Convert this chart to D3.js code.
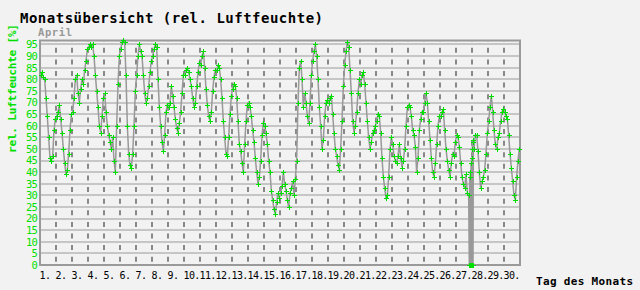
<!DOCTYPE html>
<html>
<head>
<meta charset="utf-8">
<script src="https://cdn.jsdelivr.net/npm/d3@7"></script>
<style>
  body { margin: 0; background: #f2f2f2; }
  svg { display: block; }
</style>
</head>
<body>
<script>
var width = 640, height = 290;

var monthName = 'April';
var titleText = 'Monatsübersicht (rel. Luftfeuchte)';
var yTitle = 'rel. Luftfeuchte [%]';
var xTitle = 'Tag des Monats';

var dayLabels = d3.range(1, 31).map(function (d) { return d + '.'; });
var yTicks = d3.range(0, 100, 5);

// 12 readings per day, every 2 hours (rel. humidity in %)
var humidity = [
  [82, 83, 81, 80, 72, 64, 55, 46, 45, 47, 58, 63],
  [64, 66, 69, 63, 57, 50, 44, 39, 41, 48, 58, 65],
  [66, 72, 80, 82, 74, 70, 76, 80, 78, 84, 88, 93],
  [94, 95, 94, 95, 90, 82, 75, 68, 60, 57, 64, 72],
  [74, 66, 60, 56, 53, 50, 55, 45, 40, 60, 78, 90],
  [93, 96, 97, 96, 82, 60, 48, 43, 42, 48, 60, 75],
  [82, 90, 95, 92, 90, 82, 74, 70, 72, 77, 83, 88],
  [90, 93, 95, 94, 80, 68, 60, 53, 49, 56, 66, 69],
  [68, 70, 77, 73, 68, 63, 59, 57, 61, 66, 74, 82],
  [82, 84, 85, 83, 80, 77, 72, 68, 70, 77, 83, 87],
  [86, 90, 92, 85, 76, 69, 64, 62, 66, 75, 81, 84],
  [84, 86, 85, 80, 72, 62, 55, 48, 47, 55, 65, 73],
  [76, 78, 77, 72, 62, 52, 49, 44, 40, 52, 62, 69],
  [70, 68, 64, 58, 53, 46, 40, 35, 38, 45, 56, 61],
  [60, 57, 52, 45, 40, 32, 28, 24, 22, 27, 31, 29],
  [31, 34, 40, 35, 32, 28, 25, 31, 33, 36, 30, 37],
  [45, 70, 85, 88, 80, 68, 74, 70, 64, 61, 70, 82],
  [88, 92, 95, 90, 80, 68, 60, 50, 54, 64, 70, 71],
  [70, 72, 73, 65, 57, 50, 47, 43, 41, 50, 62, 77],
  [86, 92, 96, 94, 84, 74, 62, 57, 60, 66, 74, 80],
  [78, 82, 83, 78, 70, 62, 55, 50, 53, 57, 58, 60],
  [62, 65, 64, 57, 46, 38, 33, 29, 30, 38, 50, 55],
  [52, 47, 45, 44, 47, 52, 46, 42, 45, 50, 60, 68],
  [69, 68, 64, 58, 56, 51, 40, 46, 58, 63, 66, 66],
  [70, 74, 70, 62, 54, 46, 40, 38, 44, 52, 60, 64],
  [64, 66, 67, 58, 50, 45, 41, 38, 44, 48, 47, 53],
  [56, 55, 51, 44, 38, 35, 33, 39, 31, 30, 0, 0],
  [54, 50, 56, 56, 49, 40, 33, 36, 38, 41, 48, 57],
  [62, 68, 73, 66, 58, 52, 50, 55, 57, 62, 66, 67],
  [66, 64, 63, 56, 48, 42, 36, 30, 28, 38, 45, 50]
];

// sensor dropout around the turn of day 27/28 (hour of month, value)
var dropoutHours = [644, 644.5, 645.5, 646, 646.5, 647.5, 648, 648.5, 649.5, 650];
var dropoutValues = [0, 38, 40, 0, 44, 46, 0, 50, 0, 53];

// build one time series (hour of month -> value)
var series = [];
humidity.forEach(function (day, di) {
  day.forEach(function (v, k) {
    series.push({ t: di * 24 + k * 2 + 1, v: v });
  });
});
dropoutHours.forEach(function (h, i) {
  series.push({ t: h, v: dropoutValues[i] });
});
series.sort(function (a, b) { return a.t - b.t; });

var plotLeft = 40, plotRight = 520, plotTop = 41, plotBottom = 265;

var x = d3.scaleLinear().domain([0, 720]).range([plotLeft, plotRight]);
var y = d3.scaleLinear().domain([0, 96.5]).range([plotBottom, plotTop]);

var svg = d3.select('body').append('svg')
  .attr('width', width)
  .attr('height', height);

svg.append('rect')
  .attr('width', width).attr('height', height)
  .attr('fill', '#f2f2f2');

// horizontal grid
svg.append('g')
  .selectAll('line')
  .data(yTicks.filter(function (d) { return d > 0; }))
  .join('line')
  .attr('x1', plotLeft).attr('x2', plotRight)
  .attr('y1', function (d) { return Math.round(y(d)); })
  .attr('y2', function (d) { return Math.round(y(d)); })
  .attr('stroke', '#c6c6c6')
  .attr('stroke-width', 2);

// vertical day separators (dashed)
var step = y(0) - y(5);
svg.append('g')
  .selectAll('line')
  .data(d3.range(1, 30))
  .join('line')
  .attr('x1', function (d) { return x(d * 24); })
  .attr('x2', function (d) { return x(d * 24); })
  .attr('y1', plotBottom).attr('y2', plotTop)
  .attr('stroke', '#666')
  .attr('stroke-width', 1.5)
  .attr('stroke-dasharray', '5,' + (step - 5))
  .attr('stroke-dashoffset', -(step - 5) / 2);

// frame
svg.append('rect')
  .attr('x', plotLeft).attr('y', plotTop - 0.5)
  .attr('width', plotRight - plotLeft).attr('height', plotBottom - plotTop + 0.5)
  .attr('fill', 'none')
  .attr('stroke', '#9a9a9a')
  .attr('stroke-width', 2);

// trace
var line = d3.line()
  .x(function (d) { return x(d.t); })
  .y(function (d) { return y(d.v); });

svg.append('path')
  .datum(series)
  .attr('d', line)
  .attr('fill', 'none')
  .attr('stroke', '#999')
  .attr('stroke-width', 1.5);

// markers
svg.append('g')
  .selectAll('path')
  .data(series)
  .join('path')
  .attr('transform', function (d) {
    return 'translate(' + (Math.round(x(d.t)) + 0.5) + ',' + (Math.round(y(d.v)) + 0.5) + ')';
  })
  .attr('d', 'M-2.5,0H2.5M0,-2.5V2.5')
  .attr('stroke', '#00e000')
  .attr('stroke-width', 1)
  .attr('shape-rendering', 'crispEdges');

// y axis labels
var yAxis = d3.axisLeft(y).tickValues(yTicks).tickSize(0).tickPadding(3);
var gy = svg.append('g')
  .attr('transform', 'translate(' + plotLeft + ',0)')
  .call(yAxis);
gy.select('.domain').remove();
gy.selectAll('text')
  .attr('fill', '#00e000')
  .attr('font-family', 'DejaVu Sans Mono, monospace')
  .attr('font-size', 10.5)
  .attr('letter-spacing', -0.8);

// x axis labels (start of each day)
var xAxis = d3.axisBottom(x)
  .tickValues(d3.range(0, 30).map(function (d) { return d * 24; }))
  .tickFormat(function (d, i) { return dayLabels[i]; })
  .tickSize(0).tickPadding(7);
var gx = svg.append('g')
  .attr('transform', 'translate(0,' + plotBottom + ')')
  .call(xAxis);
gx.select('.domain').remove();
gx.selectAll('text')
  .attr('text-anchor', 'start')
  .attr('dx', -1)
  .attr('fill', '#000')
  .attr('font-family', 'DejaVu Sans Mono, monospace')
  .attr('font-size', 10)
  .attr('letter-spacing', -0.6);

// titles
svg.append('text')
  .attr('x', 20).attr('y', 23)
  .attr('font-family', 'DejaVu Sans Mono, monospace')
  .attr('font-weight', 'bold')
  .attr('font-size', 14)
  .attr('textLength', 303)
  .text(titleText);

svg.append('text')
  .attr('x', 38).attr('y', 35.5)
  .attr('fill', '#999')
  .attr('font-family', 'DejaVu Sans Mono, monospace')
  .attr('font-weight', 'bold')
  .attr('font-size', 10.5)
  .attr('textLength', 34)
  .text(monthName);

svg.append('text')
  .attr('transform', 'translate(16,88.5) rotate(-90)')
  .attr('text-anchor', 'middle')
  .attr('fill', '#00e000')
  .attr('font-family', 'DejaVu Sans Mono, monospace')
  .attr('font-weight', 'bold')
  .attr('font-size', 11)
  .attr('textLength', 129)
  .text(yTitle);

svg.append('text')
  .attr('x', 536).attr('y', 285)
  .attr('font-family', 'DejaVu Sans Mono, monospace')
  .attr('font-weight', 'bold')
  .attr('font-size', 11)
  .attr('textLength', 97)
  .text(xTitle);
</script>
</body>
</html>
